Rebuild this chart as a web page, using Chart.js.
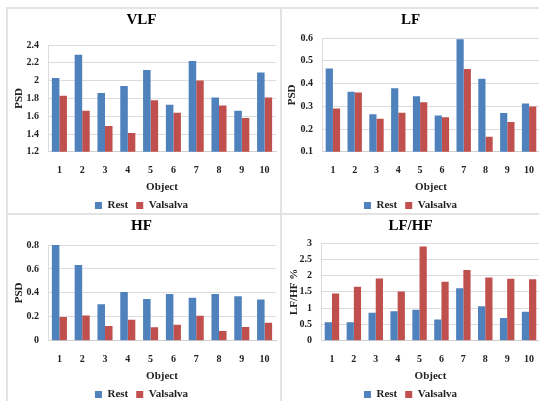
<!DOCTYPE html>
<html>
<head>
<meta charset="utf-8">
<script src="https://cdn.jsdelivr.net/npm/chart.js@4"></script>
<style>
  body { margin: 0; width: 539px; height: 401px; overflow: hidden; background: #fff; position: relative; }
  canvas { position: absolute; }
  .line { position: absolute; background: #e3e3e3; }
</style>
</head>
<body>
<div class="line" style="left:7px;top:7px;width:532px;height:2px"></div>
<div class="line" style="left:6px;top:7px;width:2px;height:394px"></div>
<div class="line" style="left:280px;top:7px;width:2px;height:394px"></div>
<div class="line" style="left:7px;top:213px;width:532px;height:2px"></div>
<canvas id="vlf" width="274" height="213" style="left:7px;top:8px"></canvas>
<canvas id="lf" width="264" height="213" style="left:281px;top:8px"></canvas>
<canvas id="hf" width="274" height="196" style="left:7px;top:214px"></canvas>
<canvas id="ratio" width="264" height="196" style="left:281px;top:214px"></canvas>
<script>
'use strict';
let objects = ['1', '2', '3', '4', '5', '6', '7', '8', '9', '10'];

let vlfRest = [2.03, 2.29, 1.86, 1.94, 2.12, 1.73, 2.22, 1.81, 1.66, 2.09];
let vlfValsalva = [1.83, 1.66, 1.49, 1.41, 1.78, 1.64, 2.00, 1.72, 1.58, 1.81];

let lfRest = [0.466, 0.364, 0.265, 0.379, 0.344, 0.26, 0.594, 0.421, 0.271, 0.312];
let lfValsalva = [0.29, 0.36, 0.245, 0.272, 0.318, 0.252, 0.464, 0.166, 0.231, 0.299];

let hfRest = [0.80, 0.633, 0.305, 0.407, 0.35, 0.39, 0.359, 0.39, 0.373, 0.345];
let hfValsalva = [0.198, 0.212, 0.124, 0.175, 0.113, 0.133, 0.209, 0.082, 0.116, 0.15];

let ratioRest = [0.57, 0.57, 0.86, 0.91, 0.95, 0.65, 1.61, 1.06, 0.70, 0.89];
let ratioValsalva = [1.45, 1.66, 1.91, 1.51, 2.89, 1.81, 2.17, 1.94, 1.90, 1.89];

let serif = "'Liberation Serif', 'Times New Roman', serif";

function makeChart(id, title, yTitle, rest, valsalva, yMin, yMax, step, axisWidth, titleBottom, yTitlePad) {
    let ctx = document.getElementById(id).getContext('2d');
    return new Chart(ctx, {
        type: 'bar',
        data: {
            labels: objects,
            datasets: [{
                label: 'Rest',
                data: rest,
                backgroundColor: '#4f81bd'
            }, {
                label: 'Valsalva',
                data: valsalva,
                backgroundColor: '#c0504d'
            }]
        },
        options: {
            responsive: false,
            animation: false,
            datasets: { bar: { categoryPercentage: 0.66, barPercentage: 1 } },
            layout: { padding: { left: 0, right: 5, top: 0, bottom: 0 } },
            plugins: {
                tooltip: { enabled: false },
                title: {
                    display: true,
                    text: title,
                    color: '#000',
                    font: { family: serif, size: 15, weight: 'bold' },
                    padding: { top: 3, bottom: titleBottom }
                },
                legend: {
                    position: 'bottom',
                    labels: {
                        boxWidth: 7,
                        boxHeight: 7,
                        padding: 8,
                        color: '#222',
                        font: { family: serif, size: 11, weight: 'bold' }
                    }
                }
            },
            scales: {
                x: {
                    grid: { display: false },
                    border: { color: '#d0d0d0' },
                    ticks: { color: '#222', padding: 5, maxRotation: 0, font: { family: serif, size: 10, weight: 'bold' } },
                    title: {
                        display: true,
                        text: 'Object',
                        color: '#222',
                        padding: { top: -1, bottom: -2 },
                        font: { family: serif, size: 11, weight: 'bold' }
                    }
                },
                y: {
                    min: yMin,
                    max: yMax,
                    afterFit: function (scale) { scale.width = axisWidth; },
                    grid: { color: '#dcdcdc', drawTicks: false },
                    border: { color: '#dcdcdc' },
                    ticks: {
                        stepSize: step,
                        autoSkip: false,
                        color: '#222',
                        padding: 9,
                        font: { family: serif, size: 10, weight: 'bold' },
                        callback: function (value) { return String(Math.round(value * 100) / 100); }
                    },
                    title: {
                        display: true,
                        text: yTitle,
                        color: '#222',
                        padding: { top: yTitlePad, bottom: 0 },
                        font: { family: serif, size: 11, weight: 'bold' }
                    }
                }
            }
        }
    });
}

makeChart('vlf', 'VLF', 'PSD', vlfRest, vlfValsalva, 1.2, 2.4, 0.2, 41, 16, 6);
makeChart('lf', 'LF', 'PSD', lfRest, lfValsalva, 0.1, 0.6, 0.1, 41, 9, 5);
makeChart('hf', 'HF', 'PSD', hfRest, hfValsalva, 0, 0.8, 0.2, 41, 10, 6);
makeChart('ratio', 'LF/HF', 'LF/HF %', ratioRest, ratioValsalva, 0, 3, 0.5, 40, 8, 7);
</script>
</body>
</html>
